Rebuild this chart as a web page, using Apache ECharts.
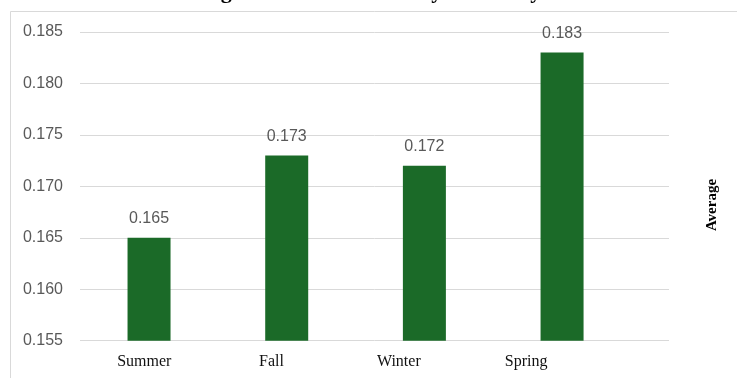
<!DOCTYPE html>
<html>
<head>
<meta charset="utf-8">
<script src="https://cdn.jsdelivr.net/npm/echarts@6/dist/echarts.min.js"></script>
<style>
  html, body { margin: 0; padding: 0; background: #ffffff; }
  #chart { width: 737px; height: 378px; }
</style>
</head>
<body>
<div id="chart"></div>
<script>
// Seasons and their average values
const seasons = ['Summer', 'Fall', 'Winter', 'Spring'];
const averages = [0.165, 0.173, 0.172, 0.183];

// Value axis range and tick step
const yMin = 0.155;
const yMax = 0.185;
const yStep = 0.005;

const titleText = 'Average Moisture Content by Season by Year';
const axisTitle = 'Average';

const barColor = '#1b6a28';
const gridColor = '#d9d9d9';
const labelGray = '#595959';

const chart = echarts.init(document.getElementById('chart'), null, { renderer: 'canvas' });

const valueAxisBase = {
  type: 'value',
  min: yMin,
  max: yMax,
  interval: yStep
};

chart.setOption({
  animation: false,
  backgroundColor: '#ffffff',
  grid: [
    // grid 0: gridlines and value labels across the full plot width
    { left: 80, right: 68, top: 32, bottom: 37.3 },
    // grid 1: the bars
    { left: 80.2, width: 550.7, top: 32, bottom: 37.3 },
    // grid 2: category names
    { left: 80.6, width: 509.2, top: 32, bottom: 37.3 }
  ],
  xAxis: [
    { gridIndex: 0, type: 'category', data: seasons, show: false },
    { gridIndex: 1, type: 'category', data: seasons, show: false },
    {
      gridIndex: 2, type: 'category', data: seasons,
      axisLine: { show: false }, axisTick: { show: false },
      axisLabel: {
        margin: 13,
        fontFamily: 'Liberation Serif',
        fontSize: 16,
        color: '#111111'
      }
    }
  ],
  yAxis: [
    Object.assign({}, valueAxisBase, {
      gridIndex: 0,
      axisLine: { show: false }, axisTick: { show: false },
      splitLine: { show: true, lineStyle: { color: gridColor, width: 1 } },
      axisLabel: {
        margin: 17,
        fontFamily: 'Liberation Sans',
        fontSize: 16,
        color: labelGray,
        formatter: v => v.toFixed(3)
      }
    }),
    Object.assign({}, valueAxisBase, { gridIndex: 1, show: false, splitLine: { show: false } }),
    Object.assign({}, valueAxisBase, { gridIndex: 2, show: false, splitLine: { show: false } })
  ],
  series: [
    {
      type: 'bar',
      xAxisIndex: 1,
      yAxisIndex: 1,
      data: averages,
      barWidth: 43,
      itemStyle: { color: barColor },
      label: {
        show: true,
        position: 'top',
        distance: 11,
        fontFamily: 'Liberation Sans',
        fontSize: 16,
        color: labelGray,
        formatter: p => p.value.toFixed(3)
      }
    }
  ],
  graphic: [
    {
      type: 'rect',
      shape: { x: 10.5, y: 11.5, width: 800, height: 500 },
      style: { fill: 'none', stroke: gridColor, lineWidth: 1 },
      silent: true,
      z: -1
    },
    {
      type: 'text',
      left: 165,
      top: -19,
      style: {
        text: titleText,
        font: 'bold 22px "Liberation Serif"',
        fill: '#000000'
      }
    },
    {
      type: 'text',
      x: 712,
      y: 205,
      rotation: Math.PI / 2,
      style: {
        text: axisTitle,
        font: 'bold 15px "Liberation Serif"',
        fill: '#000000',
        align: 'center',
        verticalAlign: 'middle'
      }
    }
  ]
});
</script>
</body>
</html>
